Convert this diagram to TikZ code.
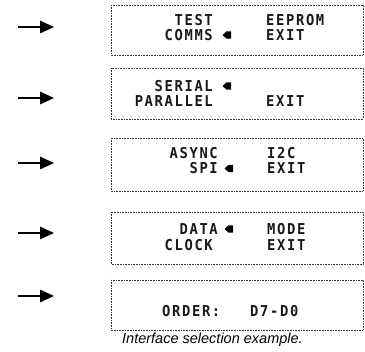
\documentclass[tikz,border=0pt]{standalone}
\usepackage{fontspec}
\usetikzlibrary{arrows.meta}
\newfontfamily\lcdfont{DejaVu Sans Mono}[LetterSpace=11, FakeStretch=0.92]
\newfontfamily\capfont{Liberation Sans}
\begin{document}
\begin{tikzpicture}[x=1pt,y=-1pt,
  lcdbox/.style={draw=black!80, densely dotted, line width=0.6pt},
  lcd/.style={inner sep=0pt, font=\lcdfont\bfseries\fontsize{15}{15}\selectfont, text=black!90},
  lcdR/.style={lcd, anchor=east},
  lcdL/.style={lcd, anchor=west},
  pointer/.style={-{Triangle[length=14pt,width=12.5pt]}, line width=1.6pt},
  selmark/.pic={\fill (-4.5,0) -- (-0.5,-3.6) -- (4,-3.6) -- (4,3.6) -- (-0.5,3.6) -- cycle;}
]
\useasboundingbox (0,0) rectangle (365,352);
% boxes
\draw[lcdbox] (111,5) rectangle (363,55);
\draw[lcdbox] (111,68) rectangle (363,119);
\draw[lcdbox] (111,138) rectangle (363,191);
\draw[lcdbox] (111,212) rectangle (363,264);
\draw[lcdbox] (111,280) rectangle (363,330);
% arrows
\foreach \i/\yy in {1/27,2/98,3/163,4/233,5/296}{
  \coordinate (s\i) at (18,\yy);
  \coordinate (e\i) at (54,\yy);
  \draw[pointer] (s\i) -- (e\i);
}
% box 1
\node[lcdR] (test) at (213,20) {TEST};
\node[lcdR] (comms) at (213,35) {COMMS};
\node[lcdL] (eeprom) at (266,20) {EEPROM};
\node[lcdL] (exit1) at (266,35) {EXIT};
\pic at (227,35) {selmark};
% box 2
\node[lcdR] (serial) at (213,86) {SERIAL};
\node[lcdR] (parallel) at (213,101.5) {PARALLEL};
\node[lcdL] (exit2) at (266,101.5) {EXIT};
\pic at (227,86) {selmark};
% box 3
\node[lcdR] (async) at (218,153.5) {ASYNC};
\node[lcdR] (spi) at (218,168.5) {SPI};
\node[lcdL] (i2c) at (267,153.5) {I2C};
\node[lcdL] (exit3) at (267,168.5) {EXIT};
\pic at (229,168.5) {selmark};
% box 4
\node[lcdR] (data) at (218,229) {DATA};
\node[lcdR] (clock) at (213,245) {CLOCK};
\node[lcdL] (mode) at (267,229) {MODE};
\node[lcdL] (exit4) at (267,245) {EXIT};
\pic at (229,229) {selmark};
% box 5
\node[lcdL] (order) at (162,311) {ORDER:};
\node[lcdL] (d7d0) at (250,311) {D7-D0};
% caption
\node[anchor=west, inner sep=0pt, font=\capfont\itshape\fontsize{14.5}{15}\selectfont] (cap) at (122,340) {Interface selection example.};
\end{tikzpicture}
\end{document}
